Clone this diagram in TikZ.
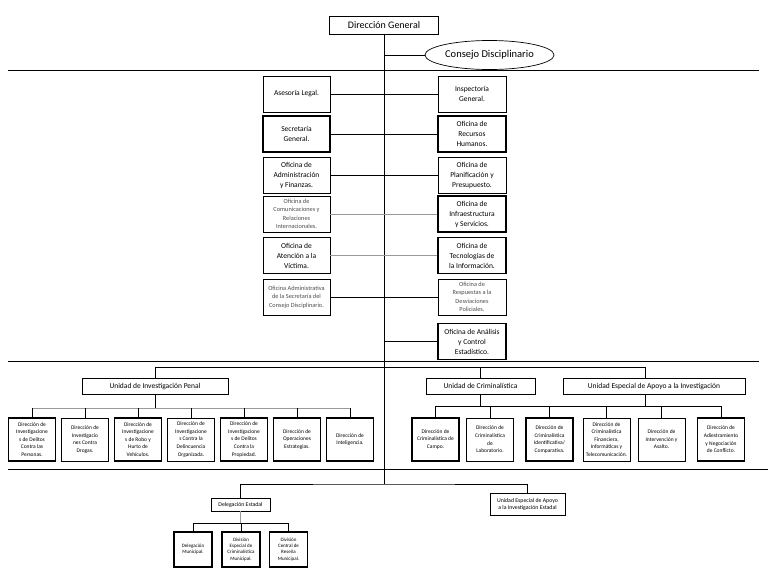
\documentclass[tikz,border=0pt]{standalone}
\usepackage{fontspec}
\setmainfont{Carlito}
\usetikzlibrary{shapes.geometric}
\begin{document}
\begin{tikzpicture}[x=1pt,y=-1pt,line width=0.7pt,
		ofi/.style={draw,inner sep=0pt,align=center,minimum width=67pt,minimum height=36pt,font=\fontsize{7.5}{10}\selectfont},
		ofig/.style={ofi,line width=1.3pt},
		ofip/.style={ofi,text=black!70,font=\fontsize{6.3}{8.5}\selectfont},
		unidad/.style={draw,inner sep=0pt,minimum height=16pt,text height=5.5pt,text depth=1.5pt,font=\fontsize{7.5}{9}\selectfont},
		dir/.style={draw,line width=0.8pt,inner sep=0pt,align=center,minimum width=47pt,minimum height=43pt,font=\fontsize{5.5}{7.6}\selectfont},
		dirg/.style={dir,line width=1.4pt},
		mun/.style={dirg,minimum width=38pt,minimum height=35pt,font=\fontsize{5}{6.2}\selectfont},
		gris/.style={black!40}]
	\useasboundingbox (0,0) rectangle (768,576);
	\foreach \y/\x in {70/759, 361/759, 469/768}
		\draw (8,\y) -- (\x,\y);
	\node[draw,inner sep=0pt,minimum width=109pt,minimum height=18pt,font=\fontsize{10}{12}\selectfont] (dg) at (384,25) {Dirección General};
	\node[ellipse,draw,inner sep=0pt,minimum width=129pt,minimum height=29pt,font=\fontsize{10.5}{12}\selectfont] (cd) at (489.5,55) {Consejo Disciplinario};
	\coordinate (fin) at (384,484);
	\draw (dg.south) -- (fin);
	\draw (dg.south |- cd.west) -- (cd.west);
	\foreach \i/\y/\t/\s in {1/94/{Asesoría Legal.}/ofi, 2/134/{Secretaría\\General.}/ofig, 3/175/{Oficina de\\Administración\\y Finanzas.}/ofi,
			4/214/{Oficina de\\Comunicaciones y\\Relaciones\\Internacionales.}/ofip, 5/255.5/{Oficina de\\Atención a la\\Víctima.}/ofi,
			6/297/{Oficina Administrativa\\de la Secretaría del\\Consejo Disciplinario.}/ofip}
		\node[\s] (izq\i) at (296.5,\y) {\t};
	\foreach \i/\y/\t/\s in {1/94/{Inspectoría\\General.}/ofi, 2/134/{Oficina de\\Recursos\\Humanos.}/ofig, 3/175/{Oficina de\\Planificación y\\Presupuesto.}/ofi,
			4/214/{Oficina de\\Infraestructura\\y Servicios.}/ofig, 5/255.5/{Oficina de\\Tecnologías de\\la Información.}/ofig,
			6/297/{Oficina de\\Respuestas a la\\Desviaciones\\Policiales.}/ofip, 7/341.5/{Oficina de Análisis\\y Control\\Estadístico.}/ofig}
		\node[\s,minimum width=68pt] (der\i) at (472,\y) {\t};
	\foreach \i in {1,2,3,6}
		\draw (izq\i.east) -- (der\i.west);
	\foreach \i in {4,5}
		\draw[gris] (izq\i.east) -- (der\i.west);
	\draw (dg.south |- der7.west) -- (der7.west);
	\node[unidad,minimum width=146pt] (uip) at (155,386) {Unidad de Investigación Penal};
	\node[unidad,minimum width=109pt] (uc) at (480.5,386) {Unidad de Criminalística};
	\node[unidad,minimum width=182pt] (uea) at (654,386) {Unidad Especial de Apoyo a la Investigación};
	\coordinate (r1) at (155,367);
	\coordinate (r2) at (645,367);
	\draw (uip.north) -- (uip.north |- r1) -- (r2) -- (r2 |- uea.north);
	\draw (uc.north) -- (uc.north |- r1);
	\foreach \i/\t/\s in {1/{Dirección de\\Investigacione\\s de Delitos\\Contra las\\Personas.}/dirg, 2/{Dirección de\\Investigacio\\nes Contra\\Drogas.}/dir,
			3/{Dirección de\\Investigacione\\s de Robo y\\Hurto de\\Vehículos.}/dirg, 4/{Dirección de\\Investigacione\\s Contra la\\Delincuencia\\Organizada.}/dir,
			5/{Dirección de\\Investigacione\\s de Delitos\\Contra la\\Propiedad.}/dirg, 6/{Dirección de\\Operaciones\\Estrategias.}/dirg,
			7/{Dirección de\\Inteligencia.}/dirg}
		\node[\s] (dp\i) at ({32+53*(\i-1)},439.5) {\t};
	\coordinate (bp) at (155,408);
	\draw (uip.south) -- (bp);
	\draw[gris] (dp1.north |- bp) -- (dp7.north |- bp);
	\foreach \i in {1,...,7}
		\draw (dp\i.north) -- (dp\i.north |- bp);
	\foreach \i/\x/\t/\s in {1/435.5/{Dirección de\\Criminalística de\\Campo.}/dirg, 2/490/{Dirección de\\Criminalística\\de\\Laboratorio.}/dir,
			3/549.5/{Dirección de\\Criminalística\\Identificativa/\\Comparativa.}/dirg, 4/606.5/{Dirección de\\Criminalística\\Financiera,\\Informáticas y\\Telecomunicación.}/dir,
			5/661.5/{Dirección de\\Intervención y\\Asalto.}/dir, 6/721/{Dirección de\\Adiestramiento\\y Negociación\\de Conflicto.}/dirg}
		\node[\s] (dc\i) at (\x,439.5) {\t};
	\coordinate (bc) at (0,406);
	\draw (uc.south) -- (uc.south |- bc);
	\draw (r2 |- uea.south) -- (r2 |- bc);
	\draw (dc1.north |- bc) -- (dc6.north |- bc);
	\foreach \i in {1,...,6}
		\draw (dc\i.north) -- (dc\i.north |- bc);
	\node[draw,inner sep=0pt,minimum width=59pt,minimum height=13pt,font=\fontsize{5.8}{7}\selectfont] (de) at (240.5,504.5) {Delegación Estadal};
	\node[draw,inner sep=0pt,align=center,minimum width=75pt,minimum height=22pt,font=\fontsize{5.8}{7}\selectfont] (uee) at (527.5,504) {Unidad Especial de Apoyo\\a la Investigación Estadal};
	\draw (de.north) |- (fin) -| (uee.north);
	\foreach \i/\x/\t in {1/193/{Delegación\\Municipal.}, 2/241/{División\\Especial de\\Criminalística\\Municipal.}, 3/288.5/{División\\Central de\\Reseña\\Municipal.}}
		\node[mun] (dm\i) at (\x,549.5) {\t};
	\coordinate (bd) at (0,523);
	\draw[gris] (de.south) -- (de.south |- bd);
	\draw (dm1.north |- bd) -- (dm3.north |- bd);
	\foreach \i in {1,2,3}
		\draw (dm\i.north) -- (dm\i.north |- bd);
\end{tikzpicture}
\end{document}
